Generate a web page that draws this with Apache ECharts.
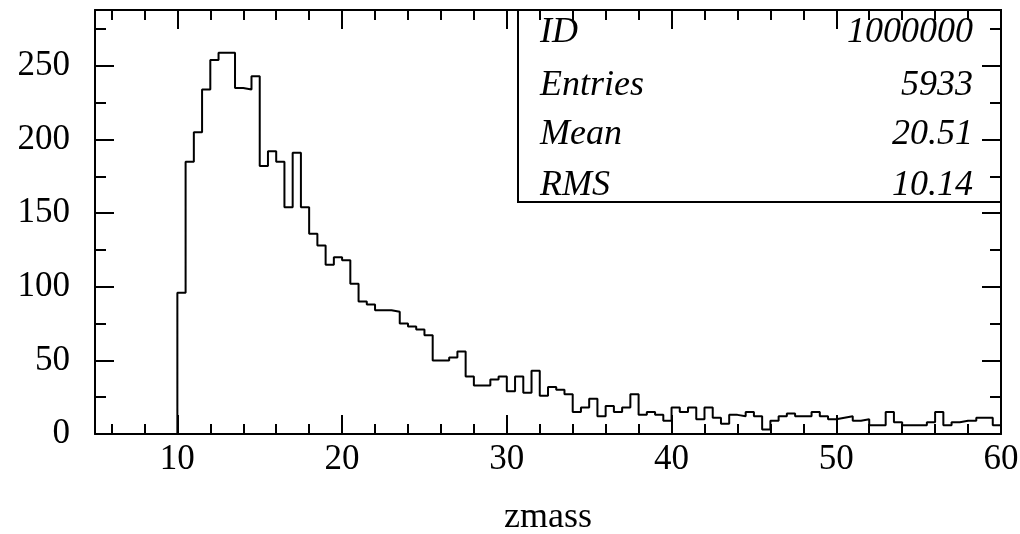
<!DOCTYPE html>
<html>
<head>
<meta charset="utf-8">
<script src="https://cdn.jsdelivr.net/npm/echarts@6/dist/echarts.min.js"></script>
<style>
  html, body { margin: 0; padding: 0; background: #fff; }
  #chart { width: 1020px; height: 534px; }
</style>
</head>
<body>
<div id="chart"></div>
<script>
// Histogram "zmass": 100 bins of width 0.5 from 10 to 60
var binLow = 10;
var binWidth = 0.5;
var counts = [
  96, 185, 205, 234, 254, 259, 259, 235, 234, 243,
  182, 192, 185, 154, 191, 154, 136, 128, 115, 120,
  118, 102, 90, 88, 84, 84, 83, 75, 73, 71,
  67, 50, 50, 52, 56, 39, 33, 33, 37, 39,
  29, 39, 28, 43, 26, 32, 30, 27, 15, 18,
  24, 12, 19, 15, 18, 27, 13, 15, 13, 9,
  18, 15, 18, 10, 18, 11, 7, 13, 12, 15,
  12, 3, 9, 12, 14, 12, 12, 15, 12, 10,
  11, 12, 9, 10, 6, 6, 15, 8, 6, 6,
  6, 8, 15, 6, 8, 9, 9, 11, 11, 6
];
var xMajorTicks = [10, 20, 30, 40, 50, 60];
var xMinorTicks = [6, 8, 12, 14, 16, 18, 22, 24, 26, 28, 32, 34, 36, 38, 42, 44, 46, 48, 52, 54, 56, 58];
var yMajorTicks = [0, 50, 100, 150, 200, 250];
var yMinorTicks = [25, 75, 125, 175, 225, 275];
var statNames = ['ID', 'Entries', 'Mean', 'RMS'];
var statValues = ['1000000', '5933', '20.51', '10.14'];
var xTitle = 'zmass';

var xMin = 5, xMax = 60, yMin = 0, yMax = 288;

var stepData = [[binLow, 0]];
for (var i = 0; i < counts.length; i++) {
  stepData.push([binLow + i * binWidth, counts[i]]);
}
stepData.push([binLow + counts.length * binWidth, counts[counts.length - 1]]);

var FONT = '"Liberation Serif", "Times New Roman", serif';
var lineStyle = { color: '#000', width: 2 };

function xAx(pos, ticks, len, withLabel, showLine) {
  return {
    type: 'value', position: pos, min: xMin, max: xMax,
    axisLine: { show: showLine, onZero: false, lineStyle: lineStyle },
    axisTick: { show: true, inside: true, length: len, customValues: ticks, lineStyle: { color: '#000', width: 2 } },
    axisLabel: withLabel ? { show: true, customValues: ticks, margin: 8, color: '#000', fontFamily: FONT, fontSize: 35 } : { show: false },
    splitLine: { show: false },
    name: withLabel ? xTitle : '',
    nameLocation: 'middle', nameGap: 66,
    nameTextStyle: { color: '#000', fontFamily: FONT, fontSize: 36 }
  };
}
function yAx(pos, ticks, len, withLabel, showLine) {
  return {
    type: 'value', position: pos, min: yMin, max: yMax,
    axisLine: { show: showLine, onZero: false, lineStyle: lineStyle },
    axisTick: { show: true, inside: true, length: len, customValues: ticks, lineStyle: { color: '#000', width: 2 } },
    axisLabel: withLabel ? { show: true, customValues: ticks, margin: 25, color: '#000', fontFamily: FONT, fontSize: 35 } : { show: false },
    splitLine: { show: false }
  };
}

var chart = echarts.init(document.getElementById('chart'), null, { renderer: 'canvas' });

chart.setOption({
  animation: false,
  backgroundColor: '#fff',
  grid: { left: 95, right: 19, top: 10, bottom: 100, containLabel: false, outerBoundsMode: 'none' },
  xAxis: [
    xAx('bottom', xMajorTicks, 19, true, true),
    xAx('bottom', xMinorTicks, 10, false, false),
    xAx('top', xMajorTicks, 19, false, true),
    xAx('top', xMinorTicks, 10, false, false)
  ],
  yAxis: [
    yAx('left', yMajorTicks, 19, true, true),
    yAx('left', yMinorTicks, 11, false, false),
    yAx('right', yMajorTicks, 19, false, true),
    yAx('right', yMinorTicks, 11, false, false)
  ],
  series: [{
    type: 'line',
    step: 'end',
    xAxisIndex: 0,
    yAxisIndex: 0,
    data: stepData,
    showSymbol: false,
    symbol: 'none',
    lineStyle: { color: '#000', width: 2 },
    clip: true
  }]
});

// Statistics box anchored to the top-right corner of the frame
var corner = chart.convertToPixel({ xAxisIndex: 0, yAxisIndex: 0 }, [xMax, yMax]);
var boxLeft = 518, boxBottom = 202;
var graphics = [{
  type: 'rect',
  shape: { x: boxLeft, y: corner[1], width: corner[0] - boxLeft, height: boxBottom - corner[1] },
  style: { fill: 'none', stroke: '#000', lineWidth: 2 },
  z: 10
}];
var rowY = [33, 86, 135, 186];
var statFont = 'italic 36px "Liberation Serif", "Times New Roman", serif';
for (var k = 0; k < statNames.length; k++) {
  graphics.push({
    type: 'text', x: 540, y: rowY[k], z: 11,
    style: { text: statNames[k], fill: '#000', font: statFont, textAlign: 'left', textVerticalAlign: 'middle' }
  });
  graphics.push({
    type: 'text', x: 973, y: rowY[k], z: 11,
    style: { text: statValues[k], fill: '#000', font: statFont, textAlign: 'right', textVerticalAlign: 'middle' }
  });
}
chart.setOption({ graphic: graphics });
</script>
</body>
</html>
